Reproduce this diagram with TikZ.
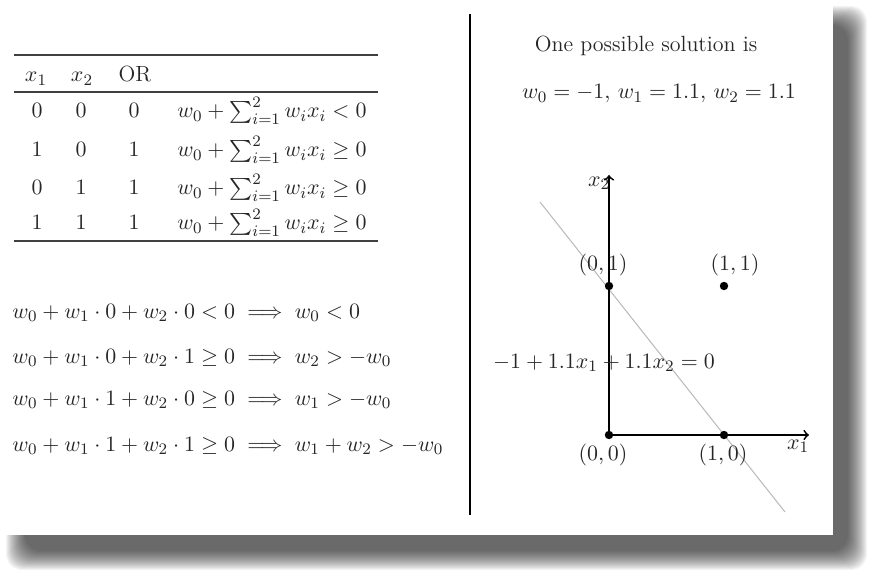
\documentclass[tikz,border=0pt]{standalone}
\usepackage{amsmath}
\begin{document}
\begin{tikzpicture}[x=0.5pt,y=-0.5pt,
  txt/.style={font=\fontsize{11}{13}\selectfont, text=black!85, inner sep=0pt},
  cell/.style={txt, anchor=base},
  lft/.style={txt, anchor=base west},
  tablerule/.style={line width=0.6pt, black!75},
  axisline/.style={line width=0.9pt, black, ->},
  dot/.style={circle, fill=black, inner sep=0pt, minimum size=4.2pt},
  sepline/.style={line width=1.2pt, black}
]
\useasboundingbox (0,0) rectangle (870,571);
% shadow
\foreach \i in {0,...,19}{
  \fill[black, opacity=0.043, rounded corners=8pt] (6+\i,6+\i) rectangle (867-\i,570-\i);
}
% card
\fill[white] (0,0) rectangle (833,535);

% table
\draw[tablerule] (14,55) -- (378,55);
\draw[tablerule] (14,92) -- (378,92);
\draw[tablerule] (14,241) -- (378,241);
\node[cell] (hx1) at (36,82) {$x_1$};
\node[cell] (hx2) at (82,82) {$x_2$};
\node[cell] (hor) at (135,82) {OR};
\node[cell] (a1) at (37,118) {$0$};
\node[cell] (b1) at (81,118) {$0$};
\node[cell] (c1) at (134,118) {$0$};
\node[lft]  (d1) at (177,118) {$w_0+\sum_{i=1}^{2} w_i x_i < 0$};
\node[cell] (a2) at (37,157) {$1$};
\node[cell] (b2) at (81,157) {$0$};
\node[cell] (c2) at (134,157) {$1$};
\node[lft]  (d2) at (177,157) {$w_0+\sum_{i=1}^{2} w_i x_i \geq 0$};
\node[cell] (a3) at (37,195) {$0$};
\node[cell] (b3) at (81,195) {$1$};
\node[cell] (c3) at (134,195) {$1$};
\node[lft]  (d3) at (177,195) {$w_0+\sum_{i=1}^{2} w_i x_i \geq 0$};
\node[cell] (a4) at (37,230) {$1$};
\node[cell] (b4) at (81,230) {$1$};
\node[cell] (c4) at (134,230) {$1$};
\node[lft]  (d4) at (177,230) {$w_0+\sum_{i=1}^{2} w_i x_i \geq 0$};

% implications
\node[lft] (e1) at (12,318) {$w_0+w_1\cdot 0+w_2\cdot 0<0 \implies w_0<0$};
\node[lft] (e2) at (12,363) {$w_0+w_1\cdot 0+w_2\cdot 1\geq 0 \implies w_2>-w_0$};
\node[lft] (e3) at (12,405) {$w_0+w_1\cdot 1+w_2\cdot 0\geq 0 \implies w_1>-w_0$};
\node[lft] (e4) at (12,451) {$w_0+w_1\cdot 1+w_2\cdot 1\geq 0 \implies w_1+w_2>-w_0$};

% separator
\draw[sepline] (470,14) -- (470,515);

% right side
\node[cell] (sol) at (646,52) {One possible solution is};
\node[cell] (wts) at (659,99) {$w_0=-1,\, w_1=1.1,\, w_2=1.1$};

% plot
\coordinate (o) at (609,435);
\coordinate (ytip) at (609,175);
\coordinate (xtip) at (809,435);
\coordinate (lineA) at (540,202);
\coordinate (lineB) at (785,512);
\draw[gray!55, line width=0.5pt] (lineA) -- (lineB);
\draw[axisline] (o) -- (ytip);
\draw[axisline] (o) -- (xtip);
\node[dot] (p00) at (609,435) {};
\node[dot] (p10) at (724,435) {};
\node[dot] (p01) at (609,286) {};
\node[dot] (p11) at (724,286) {};
\node[txt] (l01) at (603,265) {$(0,1)$};
\node[txt] (l11) at (735,265) {$(1,1)$};
\node[txt] (l00) at (603,455) {$(0,0)$};
\node[txt] (l10) at (723,455) {$(1,0)$};
\node[txt] (lx2) at (599,183) {$x_2$};
\node[txt] (lx1) at (798,446) {$x_1$};
\node[cell] (eq) at (604,368) {$-1+1.1x_1+1.1x_2=0$};
\end{tikzpicture}
\end{document}
